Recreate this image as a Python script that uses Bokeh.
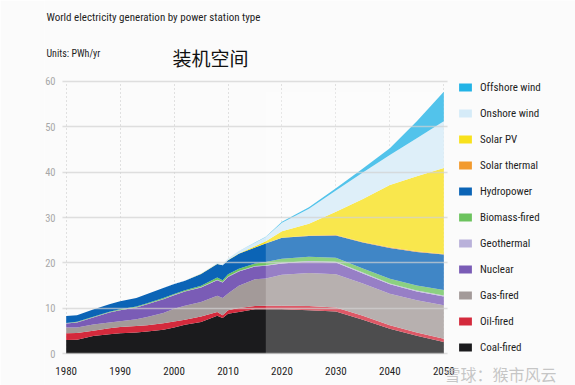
from bokeh.plotting import figure
from bokeh.models import Legend, LegendItem, Label, BoxAnnotation, FixedTicker, ColumnDataSource
from bokeh.embed import file_html
from bokeh.resources import INLINE

years = [1980, 1982, 1985, 1988, 1990, 1993, 1995, 1998, 2000, 2002, 2005, 2008,
         2009, 2010, 2012, 2015, 2017, 2020, 2025, 2030, 2035, 2040, 2045, 2050]
forecast_start = 2017

coal = [3.05, 3.1, 3.9, 4.3, 4.5, 4.7, 4.9, 5.3, 5.8, 6.4, 7.0, 8.4,
        7.9, 8.8, 9.2, 9.8, 9.8, 9.8, 9.6, 9.3, 7.5, 5.5, 4.0, 2.6]
oil = [1.5, 1.5, 1.2, 1.3, 1.4, 1.4, 1.4, 1.4, 1.3, 1.1, 1.2, 0.8,
       0.6, 0.8, 0.9, 0.7, 0.8, 0.8, 0.9, 0.9, 0.9, 0.8, 0.7, 0.7]
gas = [1.25, 1.2, 1.35, 1.3, 1.25, 1.5, 1.8, 2.3, 2.8, 3.1, 3.2, 3.6,
       3.8, 3.7, 4.9, 5.9, 6.0, 6.8, 7.3, 7.3, 7.1, 6.9, 7.1, 7.4]
nuclear = [0.85, 1.1, 1.55, 2.2, 2.45, 2.6, 2.8, 3.0, 3.0, 3.1, 3.2, 3.4,
           3.4, 3.6, 3.1, 2.8, 2.8, 2.5, 2.5, 2.6, 2.2, 2.1, 1.9, 1.9]
geothermal = [0.05, 0.05, 0.05, 0.06, 0.06, 0.07, 0.07, 0.08, 0.08, 0.08, 0.09, 0.09,
              0.09, 0.1, 0.1, 0.1, 0.1, 0.12, 0.14, 0.16, 0.18, 0.2, 0.22, 0.24]
biomass = [0.1, 0.1, 0.1, 0.1, 0.15, 0.15, 0.15, 0.2, 0.2, 0.2, 0.3, 0.5,
           0.4, 0.5, 0.5, 0.6, 0.7, 0.9, 0.9, 0.9, 0.9, 1.0, 1.1, 1.2]
hydro = [1.5, 1.45, 1.6, 1.65, 1.75, 1.85, 2.05, 2.2, 2.2, 2.1, 2.6, 3.0,
         3.3, 3.1, 3.3, 3.5, 4.1, 4.6, 4.6, 4.9, 5.7, 6.8, 7.4, 7.8]
solar_thermal = [0, 0, 0, 0, 0, 0, 0, 0, 0, 0, 0, 0,
                 0, 0.002, 0.005, 0.01, 0.012, 0.05, 0.08, 0.1, 0.12, 0.14, 0.15, 0.15]
solar_pv = [0, 0, 0, 0, 0, 0, 0, 0, 0, 0, 0.004, 0.012,
            0.02, 0.03, 0.1, 0.25, 0.45, 1.4, 2.6, 5.1, 9.5, 13.7, 16.5, 18.9]
onshore = [0, 0, 0, 0.003, 0.004, 0.005, 0.008, 0.015, 0.03, 0.05, 0.1, 0.2,
           0.27, 0.34, 0.5, 0.8, 0.95, 1.9, 3.3, 4.7, 5.8, 6.6, 8.4, 10.3]
offshore = [0, 0, 0, 0, 0, 0, 0, 0, 0, 0, 0.002, 0.003,
            0.004, 0.005, 0.01, 0.03, 0.05, 0.2, 0.35, 0.5, 0.9, 1.5, 3.7, 6.5]

series_names = ["Coal-fired", "Oil-fired", "Gas-fired", "Nuclear", "Geothermal",
                "Biomass-fired", "Hydropower", "Solar thermal", "Solar PV",
                "Onshore wind", "Offshore wind"]
series_values = [coal, oil, gas, nuclear, geothermal, biomass, hydro,
                 solar_thermal, solar_pv, onshore, offshore]
series_colors = ["#1b1b1d", "#d42a3c", "#a39a99", "#7a5cb6", "#b9b1da",
                 "#6cc35e", "#0b64b6", "#f29a2e", "#f8e11c", "#d5ebf8", "#22b3e6"]

x_ticks = [1980, 1990, 2000, 2010, 2020, 2030, 2040, 2050]
y_ticks = [0, 10, 20, 30, 40, 50, 60]

TEXT_FONT = "Liberation Sans Narrow, Roboto Condensed, DejaVu Sans Condensed, sans-serif"
CJK_FONT = "Noto Sans CJK SC"
BG = "#fbfbfb"

# ---- pixel geometry of the canvas (frame covers the canvas except a thin left strip)
W, H = 575, 385
FRAME_LEFT = 44
PX_PER_YEAR = 5.394
PX_PER_UNIT = 4.543
X0_PX = 65.7      # canvas x of the first year
Y0_PX = 353.3     # canvas y of value 0
x_start = x_ticks[0] - (X0_PX - FRAME_LEFT) / PX_PER_YEAR
x_end = x_ticks[0] + (W - X0_PX) / PX_PER_YEAR
y_start = -(H - Y0_PX) / PX_PER_UNIT
y_end = Y0_PX / PX_PER_UNIT
plot_x_lo = x_ticks[0] - 0.69
plot_x_hi = x_ticks[-1] + 0.6

data = {"year": years}
keys = []
for i, vals in enumerate(series_values):
    k = "s%d" % i
    data[k] = vals
    keys.append(k)
source = ColumnDataSource(data)

p = figure(width=W, height=H, output_backend="svg", toolbar_location=None,
           x_range=(x_start, x_end), y_range=(y_start, y_end),
           min_border_left=FRAME_LEFT, min_border_right=0, min_border_top=0, min_border_bottom=0)
p.background_fill_color = BG
p.border_fill_color = BG
p.outline_line_color = None

renderers = p.varea_stack(stackers=keys, x="year", color=series_colors, source=source)

totals = [sum(v) for v in zip(*series_values)]
# lighter forecast region
p.add_layout(BoxAnnotation(left=forecast_start, right=years[-1], bottom=0, top=max(totals),
                           fill_color="white", fill_alpha=0.22, line_color=None,
                           level="annotation"))

# grids
p.ygrid.ticker = FixedTicker(ticks=y_ticks)
p.ygrid.grid_line_color = "#d2d2d2"
p.ygrid.grid_line_width = 1.5
p.ygrid.grid_line_alpha = 0.7
p.ygrid.level = "overlay"
p.xgrid.ticker = FixedTicker(ticks=x_ticks)
p.xgrid.grid_line_color = "#c4c4c4"
p.xgrid.grid_line_dash = "1 3"
try:
    p.ygrid[0].cross_bounds = (plot_x_lo, plot_x_hi)
    p.xgrid[0].cross_bounds = (y_ticks[0], y_ticks[-1])
except AttributeError:
    p.ygrid.visible = False
    p.xgrid.visible = False
    p.segment(x0=[plot_x_lo] * len(y_ticks), x1=[plot_x_hi] * len(y_ticks),
              y0=y_ticks, y1=y_ticks, line_color="#d2d2d2", line_width=1.5,
              line_alpha=0.7, level="overlay")
    p.segment(x0=x_ticks, x1=x_ticks, y0=[y_ticks[0]] * len(x_ticks),
              y1=[y_ticks[-1]] * len(x_ticks), line_color="#c4c4c4",
              line_dash="1 3", level="underlay")

# axes (labels pulled into the canvas with negative standoffs)
p.xaxis.ticker = FixedTicker(ticks=x_ticks)
p.yaxis.ticker = FixedTicker(ticks=y_ticks)
for ax in (p.xaxis[0], p.yaxis[0]):
    ax.axis_line_color = None
    ax.major_tick_line_color = None
    ax.minor_tick_line_color = None
    ax.major_tick_out = 0
    ax.major_tick_in = 0
    ax.major_label_text_font = TEXT_FONT
ax_x, ax_y = p.xaxis[0], p.yaxis[0]
ax_x.major_label_text_font_size = "11px"
ax_x.major_label_text_color = "#1e1e1e"
ax_x.major_label_standoff = -19
ax_y.major_label_text_font_size = "10.5px"
ax_y.major_label_text_color = "#a8a8a8"
ax_y.major_label_standoff = -11

# legend (top to bottom: offshore ... coal)
items = [LegendItem(label=series_names[i], renderers=[renderers[i]])
         for i in reversed(range(len(series_names)))]
legend = Legend(items=items, location=(457 - FRAME_LEFT, 30), orientation="vertical",
                glyph_width=16, glyph_height=10, label_height=16, spacing=10,
                label_standoff=7, padding=0, margin=0,
                border_line_color=None, background_fill_alpha=0,
                label_text_font=TEXT_FONT, label_text_font_size="11px",
                label_text_color="#1e1e1e")
p.add_layout(legend)

# texts (screen units: from frame left / canvas bottom)
p.add_layout(Label(x=46 - FRAME_LEFT, y=H - 17, x_units="screen", y_units="screen",
                   text="World electricity generation by power station type",
                   text_font=TEXT_FONT, text_font_size="11px", text_color="#1e1e1e",
                   text_baseline="middle"))
p.add_layout(Label(x=46 - FRAME_LEFT, y=H - 53, x_units="screen", y_units="screen",
                   text="Units: PWh/yr",
                   text_font=TEXT_FONT, text_font_size="10px", text_color="#1e1e1e",
                   text_baseline="middle"))
p.add_layout(Label(x=172 - FRAME_LEFT, y=H - 57, x_units="screen", y_units="screen",
                   text="装机空间",
                   text_font=CJK_FONT, text_font_size="19px", text_color="#111111",
                   text_baseline="middle"))
p.add_layout(Label(x=444 - FRAME_LEFT, y=H - 373, x_units="screen", y_units="screen",
                   text="雪球：猴市风云",
                   text_font=CJK_FONT, text_font_size="16px", text_color="#b8b8b8",
                   text_alpha=0.8, text_baseline="middle"))

open("out.html", "w").write(file_html(p, INLINE))
